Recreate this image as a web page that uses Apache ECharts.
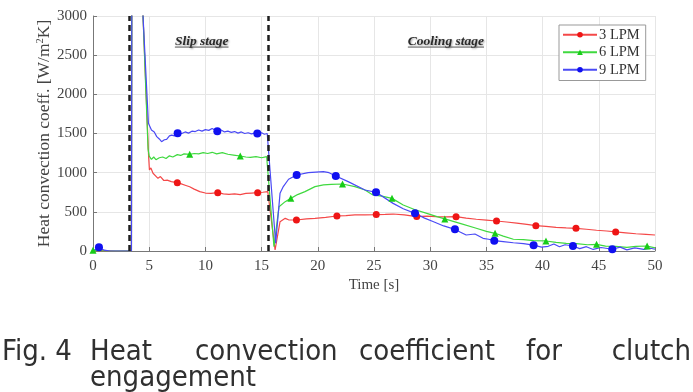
<!DOCTYPE html>
<html>
<head>
<meta charset="utf-8">
<script src="https://cdn.jsdelivr.net/npm/echarts@6/dist/echarts.min.js"></script>
<style>
  html, body { margin: 0; padding: 0; background: #fff; }
  #chart { width: 693px; height: 392px; }
</style>
</head>
<body>
<div id="chart"></div>
<script>
// [time s, heat convection coeff W/m^2K]
const lpm3 = [
  [0, 0], [0.5, 0], [1, 5], [2, 0], [3, 0], [3.42, 0], [3.46, 4000], [4.2, 4000], [4.45, 3000],
  [4.95, 1200], [5.02, 1034], [5.15, 1060], [5.34, 992], [5.5, 1010], [5.78, 928], [6.0, 950],
  [6.3, 900], [6.6, 905], [6.97, 885], [7.5, 872], [7.8, 860], [8.2, 840], [8.6, 820], [9.0, 790],
  [9.5, 758], [10.0, 740], [10.5, 735], [11.1, 745], [11.6, 730], [12.1, 722], [12.6, 730],
  [13.1, 720], [13.6, 735], [14.1, 740], [14.65, 745], [15.1, 750], [15.55, 758], [16.2, 13],
  [16.64, 374], [17.1, 417], [17.4, 398], [18.1, 396], [19.0, 410], [19.75, 417], [20.7, 430],
  [21.7, 447], [22.5, 452], [23.3, 460], [24.2, 462], [25.2, 465], [26.0, 468], [26.7, 472],
  [27.7, 460], [28.8, 440], [29.7, 445], [30.5, 440], [31.4, 436], [32.3, 438], [33.2, 420],
  [34.1, 405], [35.0, 395], [35.9, 383], [36.8, 370], [37.7, 355], [38.6, 340], [39.4, 323],
  [40.3, 315], [41.2, 302], [42.1, 295], [42.97, 289], [43.9, 278], [44.8, 265], [45.7, 255],
  [46.5, 243], [47.4, 232], [48.3, 220], [49.2, 212], [50, 204]
];
const lpm6 = [
  [0, 10], [0.5, 5], [1, 0], [2, 0], [3, 0], [3.42, 0], [3.46, 4000], [4.2, 4000], [4.45, 3000],
  [4.9, 1300], [5.0, 1210], [5.2, 1170], [5.4, 1200], [5.6, 1165], [5.9, 1190], [6.2, 1200],
  [6.5, 1180], [6.8, 1215], [7.1, 1200], [7.5, 1230], [7.8, 1220], [8.1, 1240], [8.6, 1234],
  [9.0, 1245], [9.4, 1240], [9.8, 1255], [10.2, 1245], [10.6, 1260], [11.0, 1240], [11.5, 1255],
  [12.0, 1235], [12.5, 1225], [13.1, 1213], [13.6, 1200], [14.0, 1195], [14.5, 1205], [15.0, 1190],
  [15.45, 1204], [16.1, 55], [16.55, 566], [17.1, 630], [17.6, 672], [18.2, 720], [18.86, 758],
  [19.75, 822], [20.5, 845], [21.2, 851], [22.2, 855], [23.3, 822], [24.2, 779], [24.9, 715],
  [25.7, 700], [26.6, 672], [27.6, 587], [28.6, 530], [29.7, 481], [30.6, 438], [31.3, 410],
  [32.65, 353], [34.1, 290], [35.0, 250], [35.77, 226], [36.5, 190], [37.4, 150], [38.3, 145],
  [39.2, 132], [40.3, 128], [41.2, 110], [42.1, 98], [43.0, 95], [44.0, 80], [44.8, 85],
  [45.6, 62], [46.5, 58], [47.5, 47], [48.3, 60], [49.3, 64], [50, 40]
];
const lpm9 = [
  [0, 0], [0.53, 47], [1.0, 10], [1.5, 0], [3.42, 0], [3.46, 4000], [4.2, 4000], [4.45, 3000],
  [4.93, 1630], [5.2, 1545], [5.45, 1520], [5.67, 1460], [5.9, 1430], [6.1, 1396], [6.35, 1420],
  [6.55, 1425], [6.8, 1470], [7.0, 1480], [7.25, 1470], [7.53, 1503], [7.9, 1500], [8.2, 1520],
  [8.5, 1505], [8.8, 1530], [9.1, 1525], [9.4, 1545], [9.7, 1530], [10.0, 1550], [10.3, 1540],
  [10.6, 1565], [10.85, 1545], [11.06, 1530], [11.4, 1545], [11.7, 1520], [12.0, 1530],
  [12.3, 1515], [12.6, 1525], [12.9, 1505], [13.2, 1520], [13.5, 1500], [13.8, 1510],
  [14.1, 1495], [14.35, 1505], [14.62, 1500], [15.0, 1510], [15.25, 1490], [15.5, 1500],
  [16.25, 98], [16.64, 736], [16.93, 822], [17.4, 916], [18.12, 970], [19.15, 1000], [20.5, 1013],
  [21.0, 1000], [21.6, 958], [22.7, 886], [24.2, 779], [25.18, 749], [26.7, 608], [27.6, 540],
  [28.65, 481], [29.5, 420], [30.3, 374], [31.2, 320], [32.2, 277], [32.7, 240], [33.2, 204],
  [33.98, 217], [34.7, 162], [35.2, 150], [35.7, 132], [36.5, 119], [37.4, 105], [38.3, 95],
  [39.2, 75], [39.9, 50], [40.5, 60], [41.0, 90], [41.5, 55], [42.0, 80], [42.7, 64], [43.3, 30],
  [43.9, 55], [44.5, 20], [45.2, 45], [46.2, 22], [46.9, 50], [47.5, 15], [48.2, 40], [49.0, 20],
  [49.6, 35], [50, 22]
];

// times that carry a marker on each curve
const lpm3Marks = [7.5, 11.1, 14.65, 18.1, 21.7, 25.2, 28.8, 32.3, 35.9, 39.4, 42.97, 46.5];
const lpm6Marks = [0, 8.6, 13.1, 17.6, 22.2, 26.6, 31.3, 35.77, 40.3, 44.8, 49.3];
const lpm9Marks = [0.53, 7.53, 11.06, 14.62, 18.12, 21.6, 25.18, 28.65, 32.2, 35.7, 39.2, 42.7, 46.2];

const stageBounds = [3.25, 15.55];
const stageLabels = [['Slip stage', 9.67, 2680], ['Cooling stage', 31.4, 2680]];

const chart = echarts.init(document.getElementById('chart'), null, { renderer: 'canvas' });

const serif = "'Liberation Serif', 'Times New Roman', serif";

const toItems = (points, marks) =>
  points.map(p => (marks.includes(p[0]) ? { value: p } : { value: p, symbol: 'none' }));

const makeSeries = (name, points, marks, symbol, lineColor, markColor, size) => ({
  name: name,
  type: 'line',
  data: toItems(points, marks),
  symbol: symbol,
  symbolSize: size,
  showSymbol: true,
  showAllSymbol: true,
  clip: true,
  lineStyle: { color: lineColor, width: 1.2 },
  itemStyle: { color: markColor },
  emphasis: { disabled: true },
  animation: false
});

const series = [
  makeSeries('3 LPM', lpm3, lpm3Marks, 'circle', '#f44848', '#ee1515', 7),
  makeSeries('6 LPM', lpm6, lpm6Marks, 'triangle', '#3fd93f', '#18cc18', 7),
  makeSeries('9 LPM', lpm9, lpm9Marks, 'circle', '#4a4af5', '#1010f0', 8)
];
series[0].markLine = {
  silent: true,
  symbol: ['none', 'none'],
  label: { show: false },
  lineStyle: { color: '#1e1e1e', type: [6, 4], width: 2.5 },
  data: stageBounds.map(t => ({ xAxis: t })),
  animation: false
};

const axisCommon = {
  axisLine: { show: true, lineStyle: { color: '#777', width: 1 } },
  axisTick: { show: true, inside: true, length: 4, lineStyle: { color: '#777' } },
  splitLine: { show: true, lineStyle: { color: '#e6e6e6', width: 1 } },
  axisLabel: { color: '#444', fontFamily: serif, fontSize: 15, formatter: v => String(v) },
  nameTextStyle: { color: '#444', fontFamily: serif, fontSize: 15 }
};

const option = {
  backgroundColor: '#fff',
  animation: false,
  grid: { left: 93, right: 38, top: 16, bottom: 141, containLabel: false },
  legend: {
    data: ['3 LPM', '6 LPM', '9 LPM'],
    orient: 'vertical',
    left: 559,
    top: 25,
    itemWidth: 34,
    itemHeight: 7,
    itemGap: 2,
    padding: [2, 6, 3, 3],
    borderColor: '#999',
    borderWidth: 1,
    backgroundColor: '#fff',
    selectedMode: false,
    textStyle: { color: '#333', fontFamily: serif, fontSize: 14.5, lineHeight: 15.5, padding: [0, 0, 0, -3] }
  },
  xAxis: Object.assign({}, axisCommon, {
    type: 'value',
    min: 0,
    max: 50,
    interval: 5,
    name: 'Time [s]',
    nameLocation: 'middle',
    nameGap: 27,
    nameMoveOverlap: false,
    axisLabel: Object.assign({}, axisCommon.axisLabel, { margin: 8 })
  }),
  yAxis: Object.assign({}, axisCommon, {
    type: 'value',
    min: 0,
    max: 3000,
    interval: 500,
    name: 'Heat convection coeff. [W/m{sup|2}K]',
    nameLocation: 'middle',
    nameGap: 40,
    nameMoveOverlap: false,
    nameRotate: 90,
    nameTextStyle: Object.assign({}, axisCommon.nameTextStyle, {
      fontSize: 17.5,
      rich: { sup: { fontSize: 10.5, verticalAlign: 'top', padding: [0, 0, 7, 0], fontFamily: serif, color: '#444' } }
    }),
    axisLabel: Object.assign({}, axisCommon.axisLabel, { margin: 6 })
  }),
  series: series
};

chart.setOption(option);

// stage annotations (bold italic, underlined, shadowed) placed in data coordinates
const measure = document.createElement('canvas').getContext('2d');
const annFont = "italic bold 13.5px " + serif;
measure.font = annFont;
const graphics = [];
stageLabels.forEach(([txt, t, v]) => {
  const [px, py] = chart.convertToPixel({ gridIndex: 0 }, [t, v]);
  const w = measure.measureText(txt).width;
  graphics.push({
    type: 'text',
    x: px, y: py,
    z: 20,
    style: {
      text: txt, font: annFont, fill: '#2a2a2a',
      align: 'center', verticalAlign: 'middle', textAlign: 'center', textVerticalAlign: 'middle',
      textShadowColor: 'rgba(0,0,0,0.35)', textShadowBlur: 2, textShadowOffsetX: 1, textShadowOffsetY: 1
    }
  });
  graphics.push({
    type: 'line',
    z: 20,
    shape: { x1: px - w / 2, y1: py + 6, x2: px + w / 2, y2: py + 6 },
    style: { stroke: '#555', lineWidth: 1 }
  });
});

// figure caption, word-justified like the source page
const capFont = "29px 'DejaVu Sans Condensed', 'Liberation Sans', sans-serif";
const capWords = [['Fig. 4', 2, 'left'], ['Heat', 90, 'left'], ['convection', 195, 'left'],
  ['coefficient', 359, 'left'], ['for', 526, 'left'], ['clutch', 691, 'right']];
capWords.forEach(([txt, x, al]) => {
  graphics.push({
    type: 'text', x: x, y: 352,
    style: { text: txt, font: capFont, fill: '#303030', align: al, verticalAlign: 'middle', textAlign: al, textVerticalAlign: 'middle' }
  });
});
graphics.push({
  type: 'text', x: 90, y: 378,
  style: { text: 'engagement', font: capFont, fill: '#303030', align: 'left', verticalAlign: 'middle', textAlign: 'left', textVerticalAlign: 'middle' }
});

chart.setOption({ graphic: graphics });

window.addEventListener('resize', () => chart.resize());
</script>
</body>
</html>
